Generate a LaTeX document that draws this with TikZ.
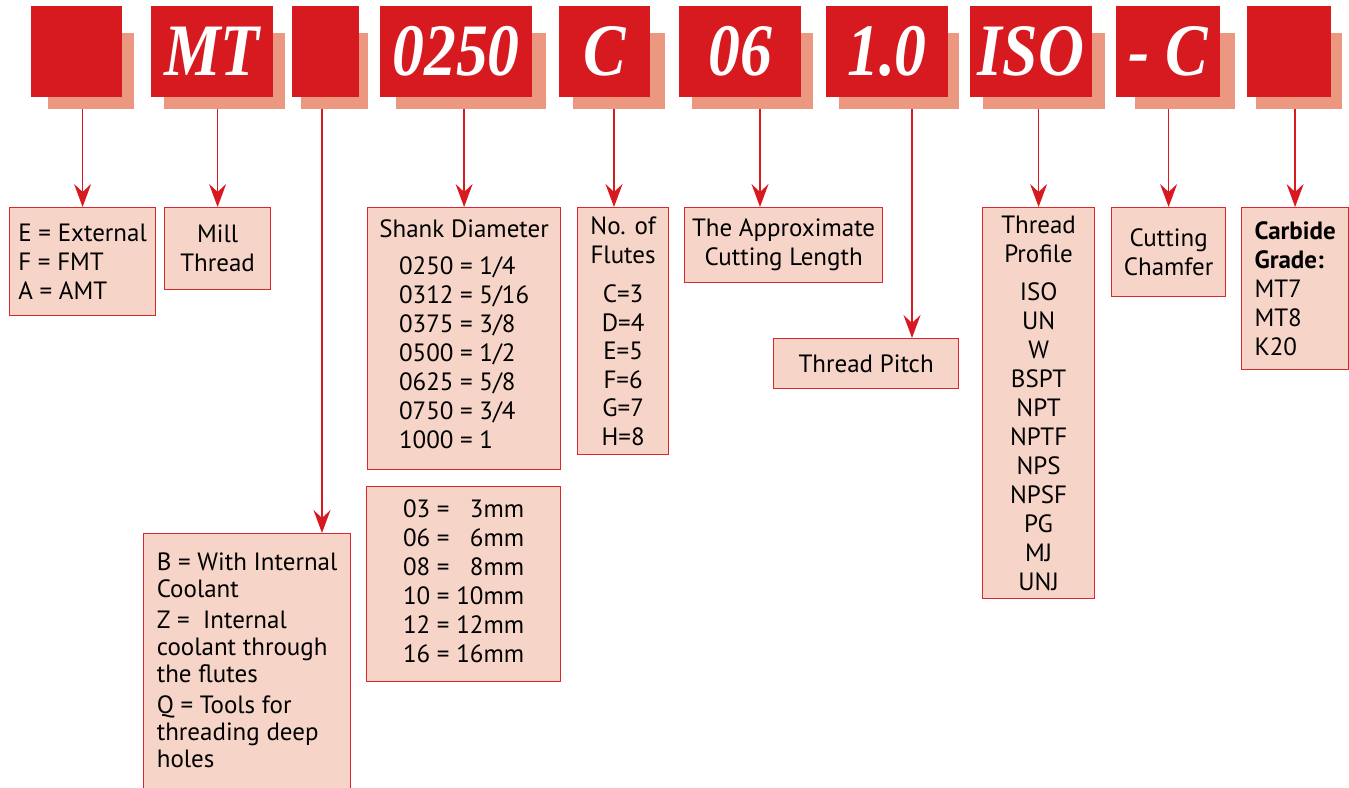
\documentclass[tikz,border=0pt]{standalone}
\usepackage{fontspec}
\setmainfont{PT Sans}
\newfontfamily\codefont[FakeStretch=0.86]{Liberation Serif}
\usetikzlibrary{arrows.meta,positioning}

\definecolor{codered}{RGB}{215,25,32}
\definecolor{codeshade}{RGB}{236,151,127}
\definecolor{infofill}{RGB}{246,213,200}
\definecolor{infoline}{RGB}{218,38,45}

\tikzset{
    codebox/.style={fill=codered, minimum height=91pt, inner sep=0pt, text=white,
        font=\codefont\bfseries\itshape\fontsize{74}{74}\selectfont},
    shadebox/.style={fill=codeshade, minimum height=76pt, inner sep=0pt},
    infobox/.style={draw=infoline, fill=infofill, line width=1.2pt, anchor=north west,
        inner sep=0pt, align=center, font=\fontsize{25}{29}\selectfont},
    pointer/.style={draw=codered, line width=1.6pt, -{Stealth[length=23pt,width=17pt,inset=8pt]}},
}

\begin{document}
\begin{tikzpicture}[x=1pt, y=-1pt]
    \useasboundingbox (0,0) rectangle (1349,787);

    % Shadows behind the code letters
    \node[shadebox, minimum width=86pt] (s1) at (91,71) {};
    \node[shadebox, minimum width=121pt] (s2) at (224.5,71) {};
    \node[shadebox, minimum width=67pt] (s3) at (334.5,71) {};
    \node[shadebox, minimum width=150pt] (s4) at (471,71) {};
    \node[shadebox, minimum width=92pt] (s5) at (619,71) {};
    \node[shadebox, minimum width=121pt] (s6) at (752.5,71) {};
    \node[shadebox, minimum width=120pt] (s7) at (899,71) {};
    \node[shadebox, minimum width=122pt] (s8) at (1044,71) {};
    \node[shadebox, minimum width=100pt] (s9) at (1185,71) {};
    \node[shadebox, minimum width=86pt] (s10) at (1299,71) {};

    % Code letters
    \node[codebox, minimum width=91pt] (c1) at (76.5,51.5) {};
    \node[codebox, minimum width=122pt] (c2) at (212,51.5) {MT};
    \node[codebox, minimum width=67pt] (c3) at (325.5,51.5) {};
    \node[codebox, minimum width=152pt] (c4) at (456,51.5) {0250};
    \node[codebox, minimum width=91pt] (c5) at (604.5,51.5) {C};
    \node[codebox, minimum width=122pt] (c6) at (740,51.5) {06};
    \node[codebox, minimum width=122pt] (c7) at (887,51.5) {1.0};
    \node[codebox, minimum width=122pt] (c8) at (1031,51.5) {ISO};
    \node[codebox, minimum width=104pt] (c9) at (1168,51.5) {- C};
    \node[codebox, minimum width=84pt] (c10) at (1289,51.5) {};

    % Explanation boxes
    \node[infobox, align=left, minimum width=146pt, minimum height=108pt] (ext) at (9,207)
        {E = External\\F = FMT\\A = AMT};
    \node[infobox, minimum width=106pt, minimum height=82pt] (mill) at (164,207)
        {Mill\\Thread};
    \node[infobox, align=left, minimum width=207pt, inner xsep=10pt,
        text height=234pt, text depth=60pt, font=\fontsize{25}{27}\selectfont] (cool) at (143,533)
        {B = With Internal\\Coolant\\[4pt]Z =\ \ Internal\\coolant through\\the flutes\\[4pt]Q = Tools for\\threading deep\\holes};
    \node[infobox, minimum width=193pt, minimum height=262pt] (shank) at (367,207)
        {Shank Diameter\\[16pt]\begin{tabular}{@{}l@{}}0250 = 1/4\\0312 = 5/16\\0375 = 3/8\\0500 = 1/2\\0625 = 5/8\\0750 = 3/4\\1000 = 1\end{tabular}};
    \node[infobox, minimum width=194pt, minimum height=195pt] (metric) at (366,486)
        {\begin{tabular}{@{}r@{ = }r@{}}03 & 3mm\\06 & 6mm\\08 & 8mm\\10 & 10mm\\12 & 12mm\\16 & 16mm\end{tabular}};
    \node[infobox, minimum width=91pt, minimum height=247pt, font=\fontsize{25}{28.5}\selectfont] (flutes) at (577,207)
        {No. of\\Flutes\\[11pt]C=3\\D=4\\E=5\\F=6\\G=7\\H=8};
    \node[infobox, minimum width=198pt, minimum height=75pt] (approx) at (684,207)
        {The Approximate\\Cutting Length};
    \node[infobox, minimum width=185pt, minimum height=50pt] (pitch) at (773,338)
        {Thread Pitch};
    \node[infobox, minimum width=112pt, minimum height=391pt] (prof) at (982,207)
        {Thread\\Profile\\[9pt]ISO\\UN\\W\\BSPT\\NPT\\NPTF\\NPS\\NPSF\\PG\\MJ\\UNJ};
    \node[infobox, minimum width=114pt, minimum height=89pt] (cham) at (1111,207)
        {Cutting\\Chamfer};
    \node[infobox, align=left, minimum width=107pt, minimum height=162pt] (carb) at (1241,207)
        {\textbf{Carbide}\\\textbf{Grade:}\\MT7\\MT8\\K20};

    % Pointers
    \draw[pointer] (s1.south -| ext.north) -- (ext.north);
    \draw[pointer] (s2.south -| mill.north) -- (mill.north);
    \draw[pointer] ([xshift=-12.5pt]s3.south) -- ([xshift=-12.5pt]s3.south |- cool.north);
    \draw[pointer] (s4.south -| shank.north) -- (shank.north);
    \draw[pointer] ([xshift=-5pt]s5.south) -- ([xshift=-5pt]s5.south |- flutes.north);
    \draw[pointer] ([xshift=7.5pt]s6.south) -- ([xshift=7.5pt]s6.south |- approx.north);
    \draw[pointer] ([xshift=13pt]s7.south) -- ([xshift=13pt]s7.south |- pitch.north);
    \draw[pointer] (s8.south -| prof.north) -- (prof.north);
    \draw[pointer] (s9.south -| cham.north) -- (cham.north);
    \draw[pointer] (s10.south -| carb.north) -- (carb.north);
\end{tikzpicture}
\end{document}
